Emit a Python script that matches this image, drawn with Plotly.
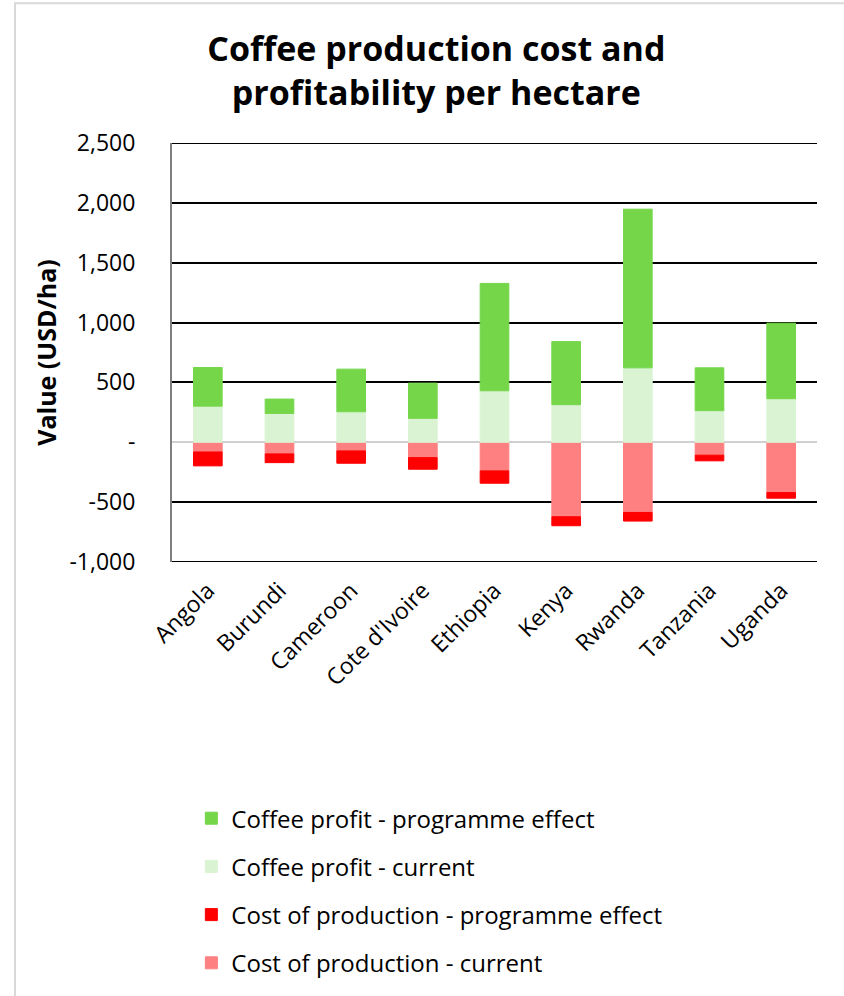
import plotly.graph_objects as go

countries = ["Angola", "Burundi", "Cameroon", "Cote d'Ivoire", "Ethiopia", "Kenya", "Rwanda", "Tanzania", "Uganda"]
cost_current = [-81, -97, -72, -128, -239, -622, -586, -108, -420]
cost_effect = [-116, -73, -103, -97, -103, -75, -72, -47, -47]
profit_current = [302, 241, 255, 200, 430, 314, 622, 264, 364]
profit_effect = [323, 120, 356, 294, 897, 527, 1325, 358, 631]

tick_vals = [-1000, -500, 0, 500, 1000, 1500, 2000, 2500]
tick_text = ["-1,000", "-500", "-", "500", "1,000", "1,500", "2,000", "2,500"]

FONT = "Open Sans"

# (name, values, colour, legend rank)
series = [
    ("Cost of production - current", cost_current, "#FF8080", 4),
    ("Cost of production - programme effect", cost_effect, "#FF0000", 3),
    ("Coffee profit - current", profit_current, "#DAF4D3", 2),
    ("Coffee profit - programme effect", profit_effect, "#75D64A", 1),
]

fig = go.Figure()
for name, vals, col, rank in series:
    fig.add_trace(go.Bar(
        x=countries, y=vals, name=name, legendgroup=name, legendrank=rank,
        marker=dict(color=col, line=dict(color=col, width=1)),
    ))

fig.update_layout(
    width=844, height=996,
    barmode="relative", bargap=0.6,
    plot_bgcolor="white", paper_bgcolor="white",
    margin=dict(l=172, r=27, t=143, b=433),
    font=dict(family=FONT, color="#000000", size=22),
    title=dict(
        text="<b>Coffee production cost and<br>profitability per hectare</b>",
        x=0.517, xanchor="center", y=0.939, yanchor="top",
        font=dict(family=FONT, size=34, color="#000000"),
    ),
    legend=dict(
        traceorder="grouped", orientation="v",
        x=0.03, xanchor="left", y=-1.005, yanchor="bottom",
        font=dict(family=FONT, size=24, color="#000000"),
        tracegroupgap=14, itemwidth=30,
    ),
    showlegend=True,
)

fig.update_yaxes(
    range=[tick_vals[0], tick_vals[-1]], tickvals=tick_vals, ticktext=tick_text,
    showgrid=True, gridcolor="#000000", gridwidth=2,
    zeroline=True, zerolinecolor="#D0D0D0", zerolinewidth=2,
    showline=True, linecolor="#7F7F7F", linewidth=2,
    ticks="outside", ticklen=30, tickcolor="rgba(0,0,0,0)",
    tickfont=dict(size=23), automargin=False,
    title=dict(text="<b>Value (USD/ha)</b>", font=dict(size=25), standoff=6),
)
fig.update_xaxes(
    tickangle=-45, tickfont=dict(size=23), automargin=False,
    showline=False, showgrid=False,
    ticks="outside", ticklen=5, tickcolor="rgba(0,0,0,0)",
)

# gridlines at the range edges (plotly omits them)
for v in (tick_vals[0], tick_vals[-1]):
    fig.add_hline(y=v, line=dict(color="#000000", width=2), layer="below")

# outer frame of the chart
fig.add_shape(type="rect", xref="paper", yref="paper",
              x0=(15 - 172) / 645, x1=(900 - 172) / 645,
              y0=(563 - 1100) / 420, y1=(563 - 3) / 420,
              line=dict(color="#D9D9D9", width=2), fillcolor="rgba(0,0,0,0)", layer="below")

fig.write_html("out.html")
